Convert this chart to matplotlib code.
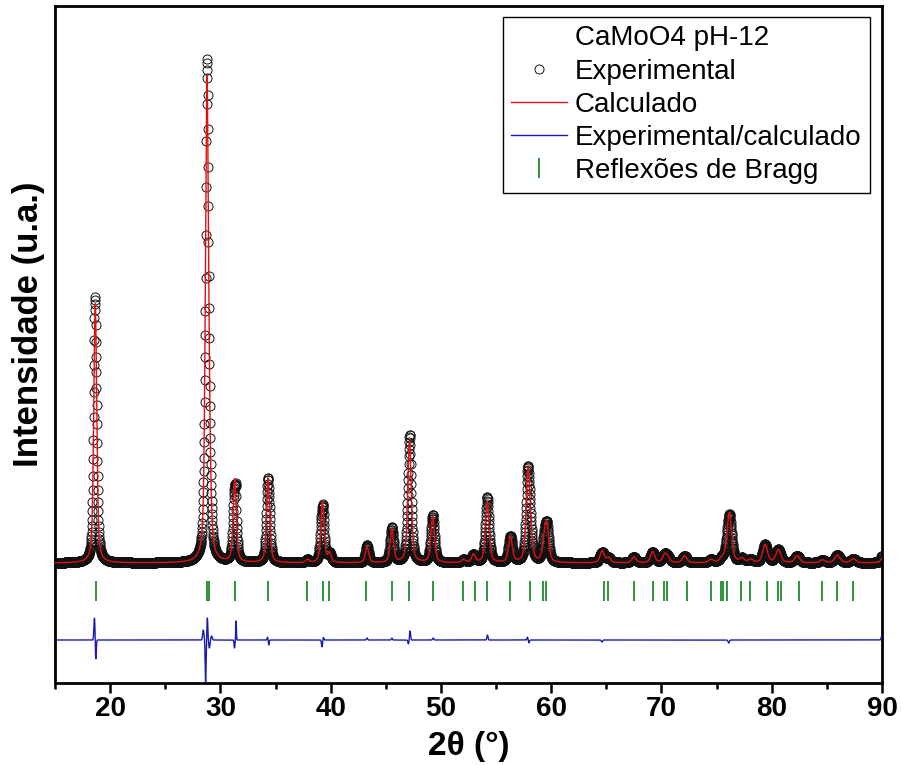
import numpy as np
import matplotlib
matplotlib.use('Agg')
import matplotlib.pyplot as plt
from matplotlib.lines import Line2D
from matplotlib.ticker import MultipleLocator

# ---------------- data ----------------
x_start, x_stop, x_step = 15.0, 90.0, 0.02
background = 1000.0

peak_pos = [18.65, 28.78, 29.02, 31.30, 34.33, 37.90, 39.25, 39.90, 43.30, 45.55,
            47.15, 49.25, 52.05, 52.95, 54.20, 56.30, 57.90, 58.15, 59.35, 59.60,
            64.62, 65.20, 67.50, 69.20, 70.30, 70.60, 72.10, 74.50, 75.50, 76.15,
            77.30, 78.10, 79.40, 80.60, 82.30, 84.60, 85.95, 87.40, 90.30]
peak_int = [2600, 4730, 500, 830, 850, 30, 610, 90, 160, 330,
            1220, 460, 30, 80, 610, 260, 910, 120, 150, 350,
            120, 50, 60, 110, 80, 40, 70, 30, 40, 500,
            40, 30, 180, 130, 70, 30, 80, 40, 100]

# Caglioti width parameters (FWHM^2 = U tan^2 + V tan + W)
cag_U, cag_V, cag_W = 0.25, 0.0, 0.095
pv_eta = 0.5

bragg_pos = [18.69, 28.76, 28.99, 31.32, 34.34, 37.88, 39.28, 39.87, 43.18, 45.53,
             47.10, 49.31, 52.03, 53.09, 54.15, 56.26, 58.08, 59.28, 59.53, 64.79,
             65.18, 67.51, 69.26, 70.23, 70.53, 72.29, 74.46, 75.37, 75.60, 75.91,
             77.18, 78.03, 79.54, 80.59, 80.81, 82.50, 84.58, 85.89, 87.34]

diff_pos = [18.58, 18.70, 28.45, 28.66, 28.82, 29.00, 29.20, 31.28, 31.42,
            34.28, 34.38, 39.22, 39.33, 43.30, 45.55, 47.05, 47.20, 49.30,
            54.22, 57.85, 57.97, 64.60, 76.10, 89.95]
diff_amp = [220, -200, 100, -420, 220, -80, 40, -80, 190,
            30, -50, -70, 30, 20, 20, -40, 90, 20,
            50, 30, -30, -20, -30, 30]
diff_wid = [0.05, 0.04, 0.06, 0.04, 0.04, 0.05, 0.06, 0.04, 0.03,
            0.04, 0.04, 0.05, 0.05, 0.05, 0.05, 0.05, 0.05, 0.05,
            0.05, 0.05, 0.05, 0.06, 0.06, 0.05]
diff_offset = 230.0
bragg_level = 720.0

legend_title = "CaMoO4 pH-12"
label_obs = "Experimental"
label_calc = "Calculado"
label_diff = "Experimental/calculado"
label_bragg = "Reflexões de Bragg"
xlabel = "2θ (°)"
ylabel = "Intensidade (u.a.)"
xticks_major = [20, 30, 40, 50, 60, 70, 80, 90]

# ---------------- build profiles ----------------
tt = np.arange(x_start, x_stop + x_step / 2, x_step)


def pseudo_voigt(x, x0, fwhm, eta):
    d = (x - x0) / fwhm
    g = np.exp(-4 * np.log(2) * d ** 2)
    lo = 1.0 / (1.0 + 4 * d ** 2)
    return eta * lo + (1 - eta) * g


calc = np.full_like(tt, background)
for p, h in zip(peak_pos, peak_int):
    t = np.tan(np.radians(p / 2))
    fwhm = np.sqrt(cag_U * t * t + cag_V * t + cag_W)
    calc += h * pseudo_voigt(tt, p, fwhm, pv_eta)

diff = np.zeros_like(tt)
for p, a, w in zip(diff_pos, diff_amp, diff_wid):
    diff += a * np.exp(-0.5 * ((tt - p) / w) ** 2)

obs = calc + diff

# ---------------- figure ----------------
fig = plt.figure(figsize=(9.01, 7.65), dpi=100)
ax = fig.add_axes([55 / 901, (765 - 683) / 765, (882 - 55) / 901, (683 - 6) / 765])

ax.plot(tt, obs, linestyle='none', marker='o', markersize=6.5, markerfacecolor='none',
        markeredgecolor='#111111', markeredgewidth=0.7, zorder=2, label=label_obs)
ax.plot(tt, calc, color='#e01010', lw=1.0, zorder=3, label=label_calc)
ax.plot(tt, diff + diff_offset, color='#1a1ab0', lw=1.0, zorder=3, label=label_diff)
ax.plot(bragg_pos, [bragg_level] * len(bragg_pos), linestyle='none', marker='|',
        markersize=14, markeredgewidth=1.3, color='#1e8c2a', zorder=3, label=label_bragg)

ax.set_xlim(x_start, x_stop)
ax.set_ylim(-200, 6570)
ax.set_yticks([])
ax.set_xticks(xticks_major)
ax.xaxis.set_minor_locator(MultipleLocator(5))
ax.tick_params(axis='x', which='major', direction='out', length=7, width=1.8, pad=2)
ax.tick_params(axis='x', which='minor', direction='out', length=4, width=1.8)
for sp in ax.spines.values():
    sp.set_linewidth(2.0)

narrow = ['Liberation Sans Narrow', 'Liberation Sans', 'DejaVu Sans']
for lab in ax.get_xticklabels():
    lab.set_fontfamily(narrow)
    lab.set_fontweight('bold')
    lab.set_fontsize(20)

ax.set_xlabel(xlabel, fontsize=24, fontweight='bold', family=narrow, labelpad=7)
ax.set_ylabel(ylabel, fontsize=25, fontweight='bold',
              family=['Liberation Sans', 'DejaVu Sans'])
ax.yaxis.set_label_coords(-0.012, 0.53)

blank = Line2D([], [], linestyle='none', marker='none')
handles, labels = ax.get_legend_handles_labels()
handles = [blank] + handles
labels = [legend_title] + labels
leg = ax.legend(handles, labels, loc='upper right', bbox_to_anchor=(0.9855, 0.9838),
                prop={'family': ['Liberation Sans', 'DejaVu Sans'], 'size': 20},
                frameon=True, fancybox=False, framealpha=1, edgecolor='black',
                handlelength=2.0, handletextpad=0.3, labelspacing=0.26,
                borderpad=0.3, borderaxespad=0.0, numpoints=1)
leg.get_frame().set_linewidth(1.0)

fig.savefig('out.png', dpi=100)
